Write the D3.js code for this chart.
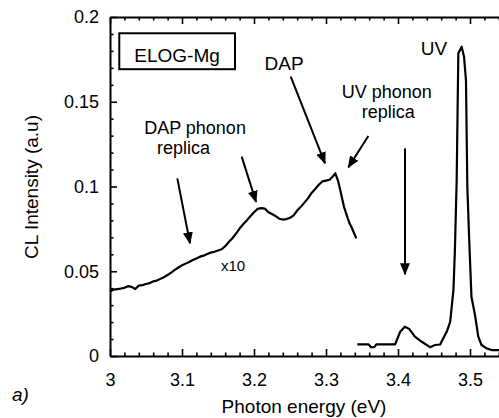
<!DOCTYPE html>
<html>
<head>
<meta charset="utf-8">
<script src="https://cdn.jsdelivr.net/npm/d3@7"></script>
<style>
  body { margin: 0; background: #fff; }
  svg { display: block; font-family: Arial, "Liberation Sans", sans-serif; }
  .axis path, .axis line { stroke: #000; }
  .axis path { stroke-width: 2; }
  .axis line { stroke-width: 1.6; }
  .axis text { font-size: 18px; fill: #000; }
  .curve { fill: none; stroke: #000; stroke-width: 2.2; stroke-linejoin: round; }
  .arrow { stroke: #000; stroke-width: 2; }
  .note { font-size: 19px; fill: #000; }
  .note.pair { font-size: 18px; }
</style>
</head>
<body>
<svg id="chart" width="499" height="418"></svg>
<script>
// x10 DAP band (photon energy eV, CL intensity)
var dapEnergy = [3.000, 3.005, 3.010, 3.015, 3.020, 3.025, 3.030, 3.035, 3.040, 3.045,
    3.050, 3.055, 3.060, 3.065, 3.070, 3.075, 3.080, 3.085, 3.090, 3.095,
    3.100, 3.105, 3.110, 3.115, 3.120, 3.125, 3.130, 3.135, 3.140, 3.145,
    3.150, 3.155, 3.160, 3.165, 3.170, 3.175, 3.180, 3.185, 3.190, 3.195,
    3.200, 3.205, 3.210, 3.215, 3.220, 3.225, 3.230, 3.235, 3.240, 3.245,
    3.250, 3.255, 3.260, 3.265, 3.270, 3.275, 3.280, 3.285, 3.290, 3.295,
    3.300, 3.305, 3.310, 3.313, 3.317, 3.320, 3.325, 3.330, 3.333, 3.336,
    3.340, 3.342];
var dapIntensity = [0.0380, 0.0392, 0.0395, 0.0398, 0.0402, 0.0412, 0.0408, 0.0395, 0.0415, 0.0418,
    0.0425, 0.0430, 0.0440, 0.0445, 0.0455, 0.0465, 0.0478, 0.0492, 0.0508, 0.0522,
    0.0535, 0.0545, 0.0555, 0.0566, 0.0575, 0.0586, 0.0592, 0.0602, 0.0610, 0.0615,
    0.0622, 0.0630, 0.0648, 0.0672, 0.0695, 0.0722, 0.0752, 0.0778, 0.0800, 0.0825,
    0.0848, 0.0868, 0.0872, 0.0870, 0.0848, 0.0838, 0.0825, 0.0810, 0.0805, 0.0808,
    0.0815, 0.0830, 0.0858, 0.0880, 0.0905, 0.0930, 0.0962, 0.0985, 0.1010, 0.1030,
    0.1035, 0.1040, 0.1062, 0.1078, 0.1030, 0.0975, 0.0880, 0.0815, 0.0780, 0.0755,
    0.0715, 0.0694];

// UV band
var uvEnergy = [3.3435, 3.3590, 3.3625, 3.3670, 3.3700, 3.3960, 3.4030, 3.4095, 3.4155, 3.4235,
    3.4330, 3.4445, 3.4515, 3.4585, 3.4676, 3.4725, 3.4770, 3.4790, 3.4815, 3.4838,
    3.4884, 3.4917, 3.4944, 3.4963, 3.4990, 3.5020, 3.5070, 3.5115, 3.5160, 3.5230,
    3.5300, 3.5450];
var uvIntensity = [0.0069, 0.0069, 0.0052, 0.0052, 0.0069, 0.0069, 0.0143, 0.0173, 0.0160, 0.0114,
    0.0084, 0.0052, 0.0065, 0.0068, 0.0143, 0.0202, 0.0390, 0.0620, 0.1038, 0.1786,
    0.1825, 0.1766, 0.1628, 0.0999, 0.0674, 0.0350, 0.0240, 0.0114, 0.0065, 0.0045,
    0.0035, 0.0035];

var xTicks = [3, 3.1, 3.2, 3.3, 3.4, 3.5];
var yTicks = [0, 0.05, 0.1, 0.15, 0.2];
var yTickLabels = ["0", "0.05", "0.1", "0.15", "0.2"];

// annotations, in data units
var notes = [
    {text: "DAP phonon", x: 3.1181, y: 0.1310, pair: true},
    {text: "replica", x: 3.1021, y: 0.1192, pair: true},
    {text: "DAP", x: 3.2417, y: 0.1687, pair: false},
    {text: "UV phonon", x: 3.3843, y: 0.1525, pair: true},
    {text: "replica", x: 3.3865, y: 0.1407, pair: true},
    {text: "UV", x: 3.4500, y: 0.1776, pair: false}
];
var arrows = [
    {x1: 3.0935, y1: 0.1048, x2: 3.1111, y2: 0.0665},
    {x1: 3.1829, y1: 0.1176, x2: 3.2028, y2: 0.0909},
    {x1: 3.2510, y1: 0.1648, x2: 3.2986, y2: 0.1137},
    {x1: 3.3588, y1: 0.1298, x2: 3.3310, y2: 0.1113},
    {x1: 3.4097, y1: 0.1225, x2: 3.4097, y2: 0.0482}
];

var margin = {left: 110, top: 17};
var width = 396, height = 339;

var svg = d3.select("#chart");
var g = svg.append("g").attr("transform", "translate(" + margin.left + "," + margin.top + ")");

var x = d3.scaleLinear().domain([3, 3.55]).range([0, width]);
var y = d3.scaleLinear().domain([0, 0.2]).range([height, 0]);

var xMinor = d3.range(3, 3.551, 0.02).filter(function(v) {
    return Math.abs(v * 10 - Math.round(v * 10)) > 1e-6;
});
var yMinor = d3.range(0, 0.2001, 0.01).filter(function(v) {
    return Math.abs(v * 20 - Math.round(v * 20)) > 1e-6;
});

// minor ticks first
g.append("g").attr("class", "axis").attr("transform", "translate(0," + height + ")")
    .call(d3.axisBottom(x).tickValues(xMinor).tickSize(-3.5).tickFormat(""))
    .select(".domain").remove();
g.append("g").attr("class", "axis")
    .call(d3.axisTop(x).tickValues(xMinor).tickSize(-3.5).tickFormat(""))
    .select(".domain").remove();
g.append("g").attr("class", "axis")
    .call(d3.axisLeft(y).tickValues(yMinor).tickSize(-3.5).tickFormat(""))
    .select(".domain").remove();

g.append("g").attr("class", "axis").attr("transform", "translate(0," + height + ")")
    .call(d3.axisBottom(x).tickValues(xTicks).tickSize(-7).tickSizeOuter(0).tickPadding(17)
        .tickFormat(d3.format("")));
g.append("g").attr("class", "axis")
    .call(d3.axisTop(x).tickValues(xTicks).tickSize(-7).tickSizeOuter(0).tickFormat(""));
g.append("g").attr("class", "axis")
    .call(d3.axisLeft(y).tickValues(yTicks).tickSize(-7).tickSizeOuter(0).tickPadding(11)
        .tickFormat(function(d, i) { return yTickLabels[i]; }));

var line = d3.line()
    .x(function(d) { return x(d[0]); })
    .y(function(d) { return y(d[1]); });

g.append("path").attr("class", "curve")
    .attr("d", line(d3.zip(dapEnergy, dapIntensity)));
g.append("path").attr("class", "curve")
    .attr("d", line(d3.zip(uvEnergy, uvIntensity)));

// arrows
svg.append("defs").append("marker")
    .attr("id", "head")
    .attr("markerUnits", "userSpaceOnUse")
    .attr("viewBox", "0 0 12 10")
    .attr("refX", 11).attr("refY", 5)
    .attr("markerWidth", 12).attr("markerHeight", 10)
    .attr("orient", "auto")
    .append("path").attr("d", "M0,0 L12,5 L0,10 Z").attr("fill", "#000");

g.selectAll("line.arrow").data(arrows).enter().append("line")
    .attr("class", "arrow")
    .attr("x1", function(d) { return x(d.x1); })
    .attr("y1", function(d) { return y(d.y1); })
    .attr("x2", function(d) { return x(d.x2); })
    .attr("y2", function(d) { return y(d.y2); })
    .attr("marker-end", "url(#head)");

g.selectAll("text.note").data(notes).enter().append("text")
    .attr("class", function(d) { return d.pair ? "note pair" : "note"; })
    .attr("text-anchor", "middle")
    .attr("x", function(d) { return x(d.x); })
    .attr("y", function(d) { return y(d.y); })
    .text(function(d) { return d.text; });

g.append("text").attr("class", "note")
    .attr("text-anchor", "middle")
    .style("font-size", "15px")
    .attr("x", x(3.1708)).attr("y", y(0.0503))
    .text("x10");

// sample label box
g.append("rect")
    .attr("x", x(3.0129)).attr("y", y(0.1904))
    .attr("width", x(3.1736) - x(3.0129)).attr("height", y(0.1692) - y(0.1904))
    .attr("fill", "none").attr("stroke", "#000").attr("stroke-width", 2);
g.append("text").attr("class", "note")
    .attr("text-anchor", "middle")
    .attr("x", x(3.0931)).attr("y", y(0.1735))
    .text("ELOG-Mg");

// axis titles
svg.append("text").attr("class", "note")
    .attr("text-anchor", "middle")
    .attr("x", 304).attr("y", 413)
    .text("Photon energy (eV)");
svg.append("text").attr("class", "note")
    .attr("text-anchor", "middle")
    .attr("transform", "translate(38,187) rotate(-90)")
    .text("CL Intensity (a.u)");
svg.append("text").attr("class", "note")
    .style("font-style", "italic")
    .attr("x", 12).attr("y", 401)
    .text("a)");
</script>
</body>
</html>
